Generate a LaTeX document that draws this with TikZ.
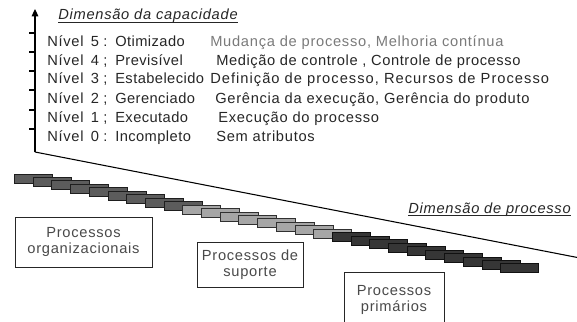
\documentclass[tikz,border=0pt]{standalone}
\usepackage{fontspec}
\setmainfont{Liberation Sans}[LetterSpace=5]
\usetikzlibrary{arrows.meta}
\definecolor{txt}{HTML}{262626}
\definecolor{descgrey}{HTML}{7A7A7A}
\definecolor{boxtxt}{HTML}{4A4A4A}
\definecolor{darkfill}{HTML}{5C5C5C}
\definecolor{darkline}{HTML}{1E1E1E}
\definecolor{lightfill}{HTML}{A6A6A6}
\definecolor{lightline}{HTML}{303030}
\definecolor{blackfill}{HTML}{363636}
\definecolor{blackline}{HTML}{111111}
\begin{document}
\begin{tikzpicture}[x=0.75pt,y=-0.75pt,
  lvl/.style={anchor=base west, inner sep=0pt, text=txt, font=\fontsize{11}{13}\selectfont},
  axisline/.style={line width=0.8pt, draw=black},
  dimlabel/.style={anchor=base west, inner sep=0pt, text=txt, font=\fontsize{11}{13}\selectfont\itshape},
  procbox/.style={draw=txt, line width=0.75pt, fill=white, align=center, text=boxtxt,
     font=\fontsize{11}{12.4}\selectfont, inner sep=0pt},
  brick/.style={line width=0.75pt}]
\useasboundingbox (0,0) rectangle (577,321);
\clip (0,0) rectangle (577,321);
% axes
\coordinate (origin) at (35,152);
\coordinate (top) at (35,9);
\coordinate (xend) at (580,258);
\draw[axisline, -{Triangle[length=5.5pt,width=5pt]}] (origin) -- (top);
\draw[axisline] (origin) -- (xend);
\foreach \t in {33,52,71,90,110,129}
  \draw[axisline] (29,\t) -- (35,\t);
% capacity dimension label
\node[dimlabel] (capdim) at (58,20) {Dimensão da capacidade};
\draw[line width=0.7pt, txt] ([yshift=-2.2pt]capdim.base west) -- ([yshift=-2.2pt]capdim.base east);
% levels
\foreach \num/\sep/\name/\dx/\desc/\col/\ls [count=\r from 0] in {
  5/:/Otimizado/210/{Mudança de processo, Melhoria contínua}/descgrey/5,
  4/;/Previsível/216/{Medição de controle , Controle de processo}/txt/4,
  3/;/Estabelecido/210/{Definição de processo, Recursos de Processo}/txt/7,
  2/;/Gerenciado/215/{Gerência da execução, Gerência do produto}/txt/5,
  1/;/Executado/218/{Execução do processo}/txt/5,
  0/:/Incompleto/216/{Sem atributos}/txt/5} {
  \pgfmathsetmacro{\yb}{46+19*\r}
  \node[lvl] (lvl\num) at (47,\yb) {Nível};
  \node[lvl] (num\num) at (90.5,\yb) {\num};
  \node[lvl] (sep\num) at (103,\yb) {\sep};
  \node[lvl] (name\num) at (115,\yb) {\addfontfeatures{LetterSpace=3}\name};
  \node[lvl, text=\col] (desc\num) at (\dx,\yb) {\addfontfeatures{LetterSpace=\ls}\desc};
}
% process dimension label
\node[dimlabel] (procdim) at (408,213) {Dimensão de processo};
\draw[line width=0.7pt, txt] ([yshift=-2.2pt]procdim.base west) -- ([yshift=-2.2pt]procdim.base east);
% staircase of bricks
\foreach \i in {0,...,26} {
  \pgfmathsetmacro{\bx}{14.5+18.7*\i}
  \pgfmathsetmacro{\by}{174+3.46*\i}
  \ifnum\i<9
    \draw[brick, fill=darkfill, draw=darkline] (\bx,\by) rectangle ++(38,9);
  \else\ifnum\i<17
    \draw[brick, fill=lightfill, draw=lightline] (\bx,\by) rectangle ++(38,9);
  \else
    \draw[brick, fill=blackfill, draw=blackline] (\bx,\by) rectangle ++(38,9);
  \fi\fi
}
% process boxes
\node[procbox, minimum width=137*0.75pt, minimum height=50*0.75pt] (org) at (83.5,242) {Processos\\organizacionais};
\node[procbox, minimum width=106*0.75pt, minimum height=45*0.75pt] (sup) at (250,264.5) {Processos de\\suporte};
\node[procbox, minimum width=100*0.75pt, minimum height=56*0.75pt] (pri) at (394,300) {Processos\\primários};
\end{tikzpicture}
\end{document}
